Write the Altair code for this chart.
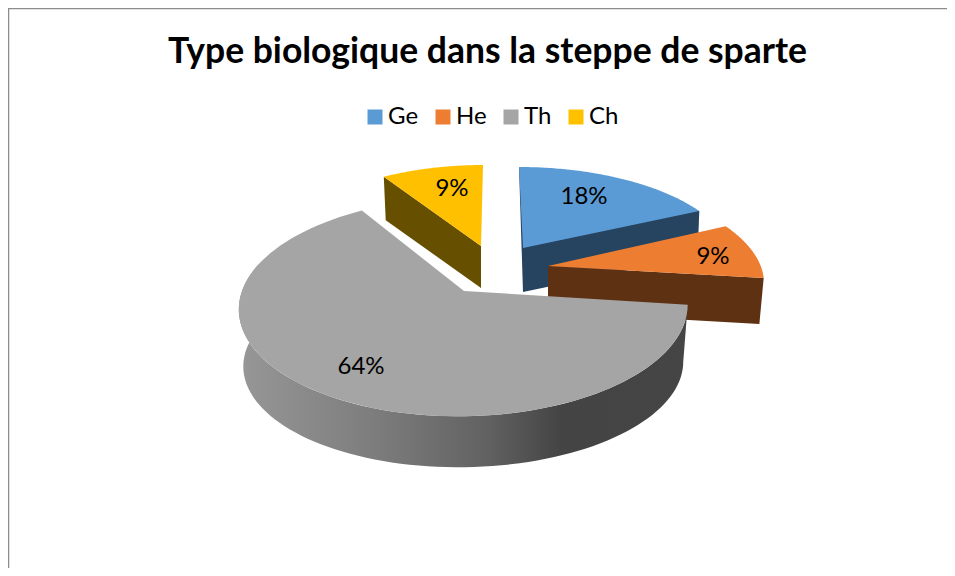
import math
import altair as alt

# --- data ---
categories = ["Ge", "He", "Th", "Ch"]
values = [18, 9, 64, 9]
top_colors = ["#5B9BD5", "#ED7D31", "#A5A5A5", "#FFC000"]
side_colors = ["#264360", "#5F3113", "#454545", "#665000"]
title_text = "Type biologique dans la steppe  de sparte"

# --- perspective of each exploded slice (page pixels, svg origin at 8,8) ---
#          apex x, apex y, f, tilt, g, k, depth, bottom scale x, bottom scale y
views = {
    "Ge": (515, 240, 207.5, -4.5, 91.3, 0.127, 44, 0.99, 0.99),
    "He": (540, 258, 212.7, -24.2, 96.0, 0.06, 46, 0.98, 0.98),
    "Th": (456, 283, 222.0, 5.0, 107.0, 0.146, 58, 0.98, 0.944),
    "Ch": (473, 238, 197.6, 2.2, 87.7, 0.083, 42, 0.98, 0.98),
}
label_pos = {"Ge": (576, 189), "He": (705, 249), "Th": (353, 359), "Ch": (444, 181)}
W, H = 939, 560


def rim(name, deg):
    ax, ay, f, t, g, k, *_ = views[name]
    a = math.radians(deg)
    X, Y = math.sin(a), math.cos(a)
    w = 1 + k * Y
    return [ax + (f * X + t * Y) / w, ay - g * Y / w]


def drop(name, p):
    ax, ay, *_, d, sx, sy = views[name]
    return [ax + sx * (p[0] - ax), ay + d + sy * (p[1] - ay)]


def feature(name, ring):
    ring = [list(p) for p in ring]
    ring.append(ring[0])
    return {
        "type": "Feature",
        "properties": {"name": name},
        "geometry": {"type": "Polygon", "coordinates": [ring]},
    }


total = sum(values)
edges = {}
run = 0.0
for c, v in zip(categories, values):
    edges[c] = (run * 360 / total, (run + v) * 360 / total)
    run += v


def arc(name, a0, a1, n=90):
    return [rim(name, a0 + (a1 - a0) * i / n) for i in range(n + 1)]


def top_face(name):
    a0, a1 = edges[name]
    return feature(name, [views[name][:2]] + arc(name, a0, a1))


def ge_wall():
    a0, a1 = edges["Ge"]
    p0, p1 = rim("Ge", a0), rim("Ge", a1)
    apex = views["Ge"][:2]
    return feature("Ge", [p0, p1, drop("Ge", p1), drop("Ge", apex)])


def he_wall():
    _, a1 = edges["He"]
    p1 = rim("He", a1)
    apex = views["He"][:2]
    return feature("He", [apex, p1, drop("He", p1), drop("He", apex)])


def ch_wall():
    a0, _ = edges["Ch"]
    p0 = rim("Ch", a0)
    apex = views["Ch"][:2]
    return feature("Ch", [p0, apex, drop("Ch", apex), drop("Ch", p0)])


def th_wall():
    a0, a1 = edges["Th"]
    top = arc("Th", a0, 285)
    bottom = [drop("Th", p) for p in top]
    return feature("Th", top + bottom[::-1])


projection = alt.Projection(type="identity", scale=1, translate=[0, 0])


def shape(features, **mark):
    return alt.Chart(alt.Data(values=features)).mark_geoshape(
        strokeWidth=0, stroke="transparent", **mark
    ).project(**projection.to_dict())


side_idx = dict(zip(categories, side_colors))
th_gradient = alt.Gradient(
    gradient="linear",
    x1=0, x2=1, y1=0, y2=0,
    stops=[
        alt.GradientStop(color="#979797", offset=0),
        alt.GradientStop(color="#7d7d7d", offset=0.3),
        alt.GradientStop(color="#626262", offset=0.55),
        alt.GradientStop(color="#444444", offset=0.72),
        alt.GradientStop(color="#454545", offset=1),
    ],
)

color_enc = alt.Color(
    "properties.name:N",
    scale=alt.Scale(domain=categories, range=top_colors),
    legend=alt.Legend(
        orient="none",
        legendX=355,
        legendY=97,
        direction="horizontal",
        title=None,
        symbolType="square",
        symbolSize=225,
        symbolStrokeWidth=0,
        labelFont="Lato",
        labelFontSize=24,
        labelColor="#000000",
        labelOffset=1,
        columnPadding=12,
    ),
)

layers = [
    shape([ge_wall()], fill=side_idx["Ge"]),
    shape([top_face("Ge")], fill=top_colors[0]),
    shape([ch_wall()], fill=side_idx["Ch"]),
    shape([top_face("Ch")], fill=top_colors[3]),
    shape([he_wall()], fill=side_idx["He"]),
    shape([top_face("He")], fill=top_colors[1]),
    shape([th_wall()], fill=th_gradient),
    shape([top_face("Th")]).encode(color=color_enc),
]

labels = []
for c, v in zip(categories, values):
    x, y = label_pos[c]
    labels.append(
        alt.Chart(alt.Data(values=[{"t": f"{v}%"}]))
        .mark_text(font="Lato", fontSize=24, color="#000000", align="center", baseline="middle")
        .encode(text="t:N", x=alt.value(x), y=alt.value(y))
    )

frame = [
    alt.Chart(alt.Data(values=[{"a": 0}])).mark_rule(color="#8c8c8c", strokeWidth=1.5).encode(
        x=alt.value(0.5), y=alt.value(0), y2=alt.value(H)
    ),
    alt.Chart(alt.Data(values=[{"a": 0}])).mark_rule(color="#8c8c8c", strokeWidth=1.5).encode(
        y=alt.value(0.5), x=alt.value(0), x2=alt.value(W)
    ),
]

chart = (
    alt.layer(*frame, *layers, *labels)
    .resolve_scale(color="shared")
    .properties(
        width=W,
        height=H,
        padding=0,
        autosize=alt.AutoSizeParams(type="none"),
        title=alt.TitleParams(
            text=title_text,
            font="Lato",
            fontSize=35.5,
            fontWeight="bold",
            color="#000000",
            anchor="middle",
            offset=0,
            dy=63,
            dx=10,
        ),
    )
    .configure_view(stroke=None)
    .configure_legend(padding=0)
)

chart.save("out.html", embed_options={"renderer": "svg", "actions": False})
